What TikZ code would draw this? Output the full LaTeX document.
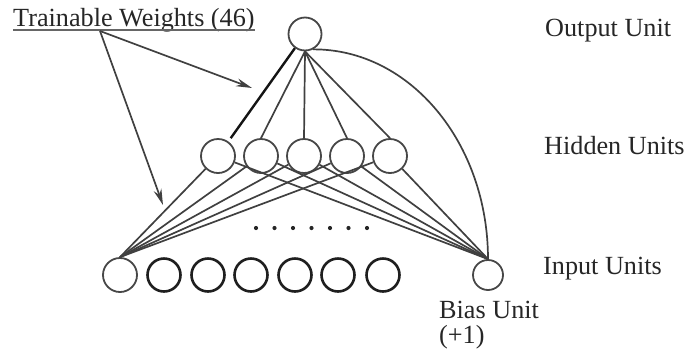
\documentclass[tikz,border=0pt]{standalone}
\usepackage{fontspec}
\setmainfont{Liberation Serif}
\usetikzlibrary{arrows.meta}
\begin{document}
\begin{tikzpicture}[x=1pt,y=-1pt,
  unit/.style={circle, draw=black!72, line width=1.8pt, minimum size=33pt, inner sep=0pt},
  inunit/.style={unit, draw=black!88, line width=2.6pt},
  wire/.style={draw=black!75, line width=1.7pt},
  lab/.style={anchor=base west, font=\fontsize{26.2}{30}\selectfont, inner sep=0pt, text=black!85},
  arr/.style={wire, -{Stealth[length=16pt,width=8pt]}},
  dot/.style={circle, fill=black!85, inner sep=0pt, minimum size=4.2pt}]
\useasboundingbox (0,0) rectangle (690,354);

% units
\node[unit] (out) at (305,34) {};
\foreach \i/\x in {1/218,2/261,3/304,4/347,5/390}
  \node[unit, minimum size=34pt] (h\i) at (\x,156) {};
\node[unit, minimum size=34pt] (in1) at (120,275) {};
\foreach \i/\x in {2/164,3/208,4/251,5/295,6/338,7/383}
  \node[inunit, minimum size=33pt] (in\i) at (\x,275) {};
\node[unit, minimum size=30pt] (bias) at (488,275) {};

% dots
\foreach \i/\x in {1/256,2/274.5,3/293,4/311.5,5/330,6/348.5,7/367}
  \node[dot] (d\i) at (\x,228) {};

% output to hidden
\draw[wire, line width=2.4pt, draw=black!92, shorten >=4pt] (out) -- (h1);
\foreach \i in {2,...,5}
  \draw[wire] (out.south) -- (h\i.north);
% output to bias (arc)
\draw[wire] (out.-62) .. controls (410,49) and (488,143) .. (bias.north);

% hidden to input 1 and bias
\foreach \i in {1,...,5}{
  \draw[wire] (h\i) -- (in1.north);
  \draw[wire] (h\i) -- (bias.north);
}

% labels
\node[lab] (tw) at (13,26) {Trainable Weights (46)};
\draw[draw=black!60, line width=1.8pt] (tw.base west) ++(0,4) coordinate (ul1) -- (tw.base east |- ul1) coordinate (ul2);
\coordinate (src) at (100,31);
\coordinate (t1) at (252,88);
\coordinate (t2) at (163,205);
\draw[arr] (src) -- (t1);
\draw[arr] (src) -- (t2);

\node[lab] (lo) at (545,36) {Output Unit};
\node[lab] (lh) at (544,154) {Hidden Units};
\node[lab] (li) at (543,274) {Input Units};
\node[lab] (lb) at (439,318) {Bias Unit};
\node[lab] (lp) at (439,343) {(+1)};
\end{tikzpicture}
\end{document}
